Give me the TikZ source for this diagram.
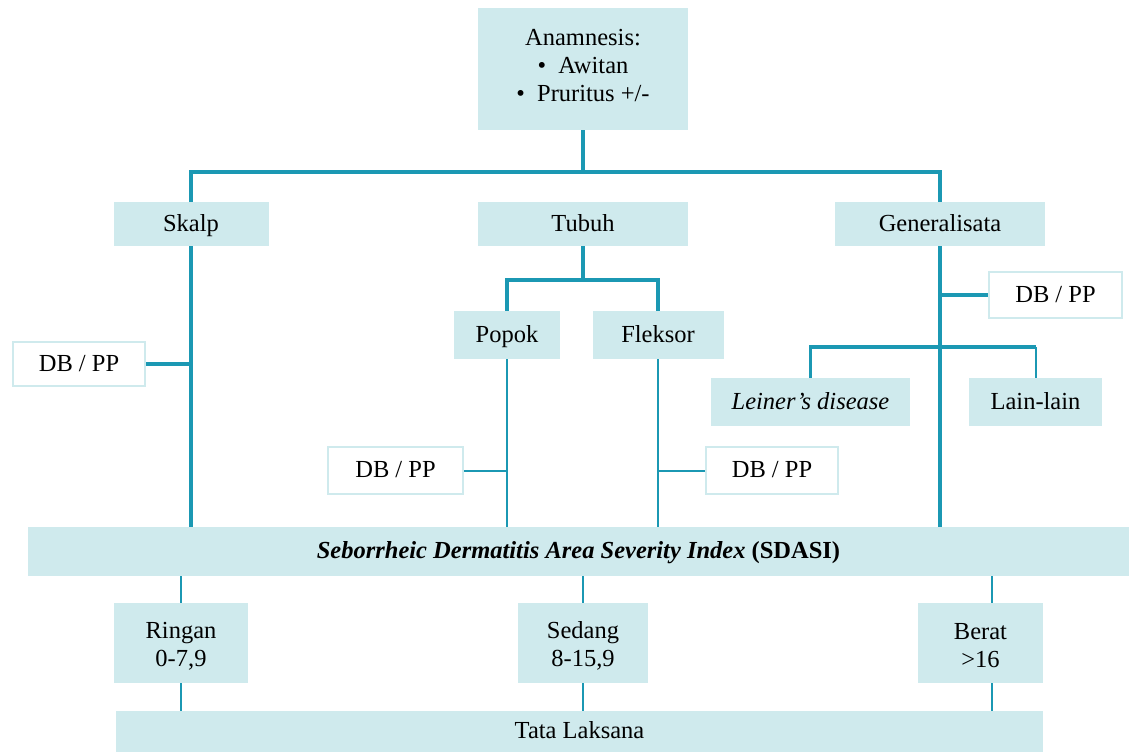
\documentclass[tikz,border=0pt]{standalone}
\usepackage{fontspec}
\setmainfont{Liberation Serif}
\definecolor{boxc}{HTML}{CFEAED}
\definecolor{linec}{HTML}{1B98B3}
\begin{document}
\begin{tikzpicture}[x=1pt,y=-1pt,
  base/.style={inner sep=0pt, align=center, font=\fontsize{24.5}{28}\selectfont},
  one/.style={text height=17pt, text depth=3pt},
  fbox/.style={base, fill=boxc, draw=none},
  wbox/.style={base, one, fill=white, draw=boxc, line width=2.5pt},
  conn/.style={draw=linec, line width=3.5pt},
  tconn/.style={draw=linec, line width=2pt}]
\useasboundingbox (0,0) rectangle (1129,752);
% nodes
\node[fbox, minimum width=210pt, minimum height=122pt] (ana) at (583,69) {};
\node[base, anchor=north] (anatext) at (583,29)
  {Anamnesis:\\ \textbullet\ \ Awitan\\ \textbullet\ \ Pruritus +/-};
\node[fbox, one, minimum width=155pt, minimum height=44pt] (skalp) at (191,224) {Skalp};
\node[fbox, one, minimum width=210pt, minimum height=44pt] (tubuh) at (583,224) {Tubuh};
\node[fbox, one, minimum width=210pt, minimum height=44pt] (gen) at (940,224) {Generalisata};
\node[fbox, one, minimum width=106pt, minimum height=48pt] (popok) at (507,335) {Popok};
\node[fbox, one, minimum width=131pt, minimum height=48pt] (fleksor) at (658,335) {Fleksor};
\node[wbox, minimum width=132pt, minimum height=44pt] (db1) at (79,364) {DB / PP};
\node[wbox, minimum width=135pt, minimum height=47pt] (db2) at (395.5,470.5) {DB / PP};
\node[wbox, minimum width=132pt, minimum height=47pt] (db3) at (772,470.5) {DB / PP};
\node[wbox, minimum width=133pt, minimum height=46pt] (db4) at (1055.5,295) {DB / PP};
\node[fbox, one, minimum width=199pt, minimum height=48pt] (leiner) at (810.5,402) {\itshape Leiner's disease};
\node[fbox, one, minimum width=133pt, minimum height=48pt] (lain) at (1035.5,402) {Lain-lain};
\node[fbox, one, minimum width=1101pt, minimum height=49pt] (sdasi) at (578.5,551.5)
  {\textbf{\itshape Seborrheic Dermatitis Area Severity Index} \textbf{(SDASI)}};
\node[fbox, minimum width=134pt, minimum height=80pt] (ringan) at (181,643) {};
\node[fbox, minimum width=130pt, minimum height=80pt] (sedang) at (583,643) {};
\node[fbox, minimum width=125pt, minimum height=80pt] (berat) at (980.5,643) {};
\node[base] (ringantext) at ([yshift=-3pt]ringan.center) {Ringan\\0-7,9};
\node[base] (sedangtext) at ([yshift=-3pt]sedang.center) {Sedang\\8-15,9};
\node[base] (berattext) at ([yshift=-3pt]berat.center) {Berat\\>16};
\node[fbox, one, minimum width=927pt, minimum height=41pt] (tata) at (579.5,731.5) {Tata Laksana};
% helper coordinates
\coordinate (top) at (583,172);
\coordinate (tb) at (583,280);
\coordinate (lg) at (940,347);
% connectors
\draw[conn] (ana.south) -- (top);
\draw[conn] (skalp.north) -- (skalp.north |- top) -- (gen.north |- top) -- (gen.north);
\draw[conn] (skalp.south) -- (skalp.south |- sdasi.north);
\draw[conn] (db1.east) -- (db1.east -| skalp.south);
\draw[conn] (tubuh.south) -- (tb);
\draw[conn] (popok.north) |- (tb) -| (fleksor.north);
\draw[tconn] (popok.south) -- (popok.south |- sdasi.north);
\draw[tconn] (fleksor.south) -- (fleksor.south |- sdasi.north);
\draw[tconn] (db2.east) -- (db2.east -| popok.south);
\draw[tconn] (db3.west) -- (db3.west -| fleksor.south);
\draw[conn] (gen.south) -- (gen.south |- sdasi.north);
\draw[conn] (db4.west) -- (db4.west -| gen.south);
\draw[conn] (leiner.north) |- (lg) -- (lg -| lain.north);
\draw[tconn] (lain.north) -- (lg -| lain.north);
\draw[tconn] (sdasi.south -| ringan.north) -- (ringan.north);
\draw[tconn] (sdasi.south -| sedang.north) -- (sedang.north);
\draw[tconn] ([xshift=11.5pt]berat.north |- sdasi.south) -- ([xshift=11.5pt]berat.north);
\draw[tconn] (ringan.south) -- (ringan.south |- tata.north);
\draw[tconn] (sedang.south) -- (sedang.south |- tata.north);
\draw[tconn] ([xshift=11.5pt]berat.south) -- ([xshift=11.5pt]berat.south |- tata.north);
\end{tikzpicture}
\end{document}
